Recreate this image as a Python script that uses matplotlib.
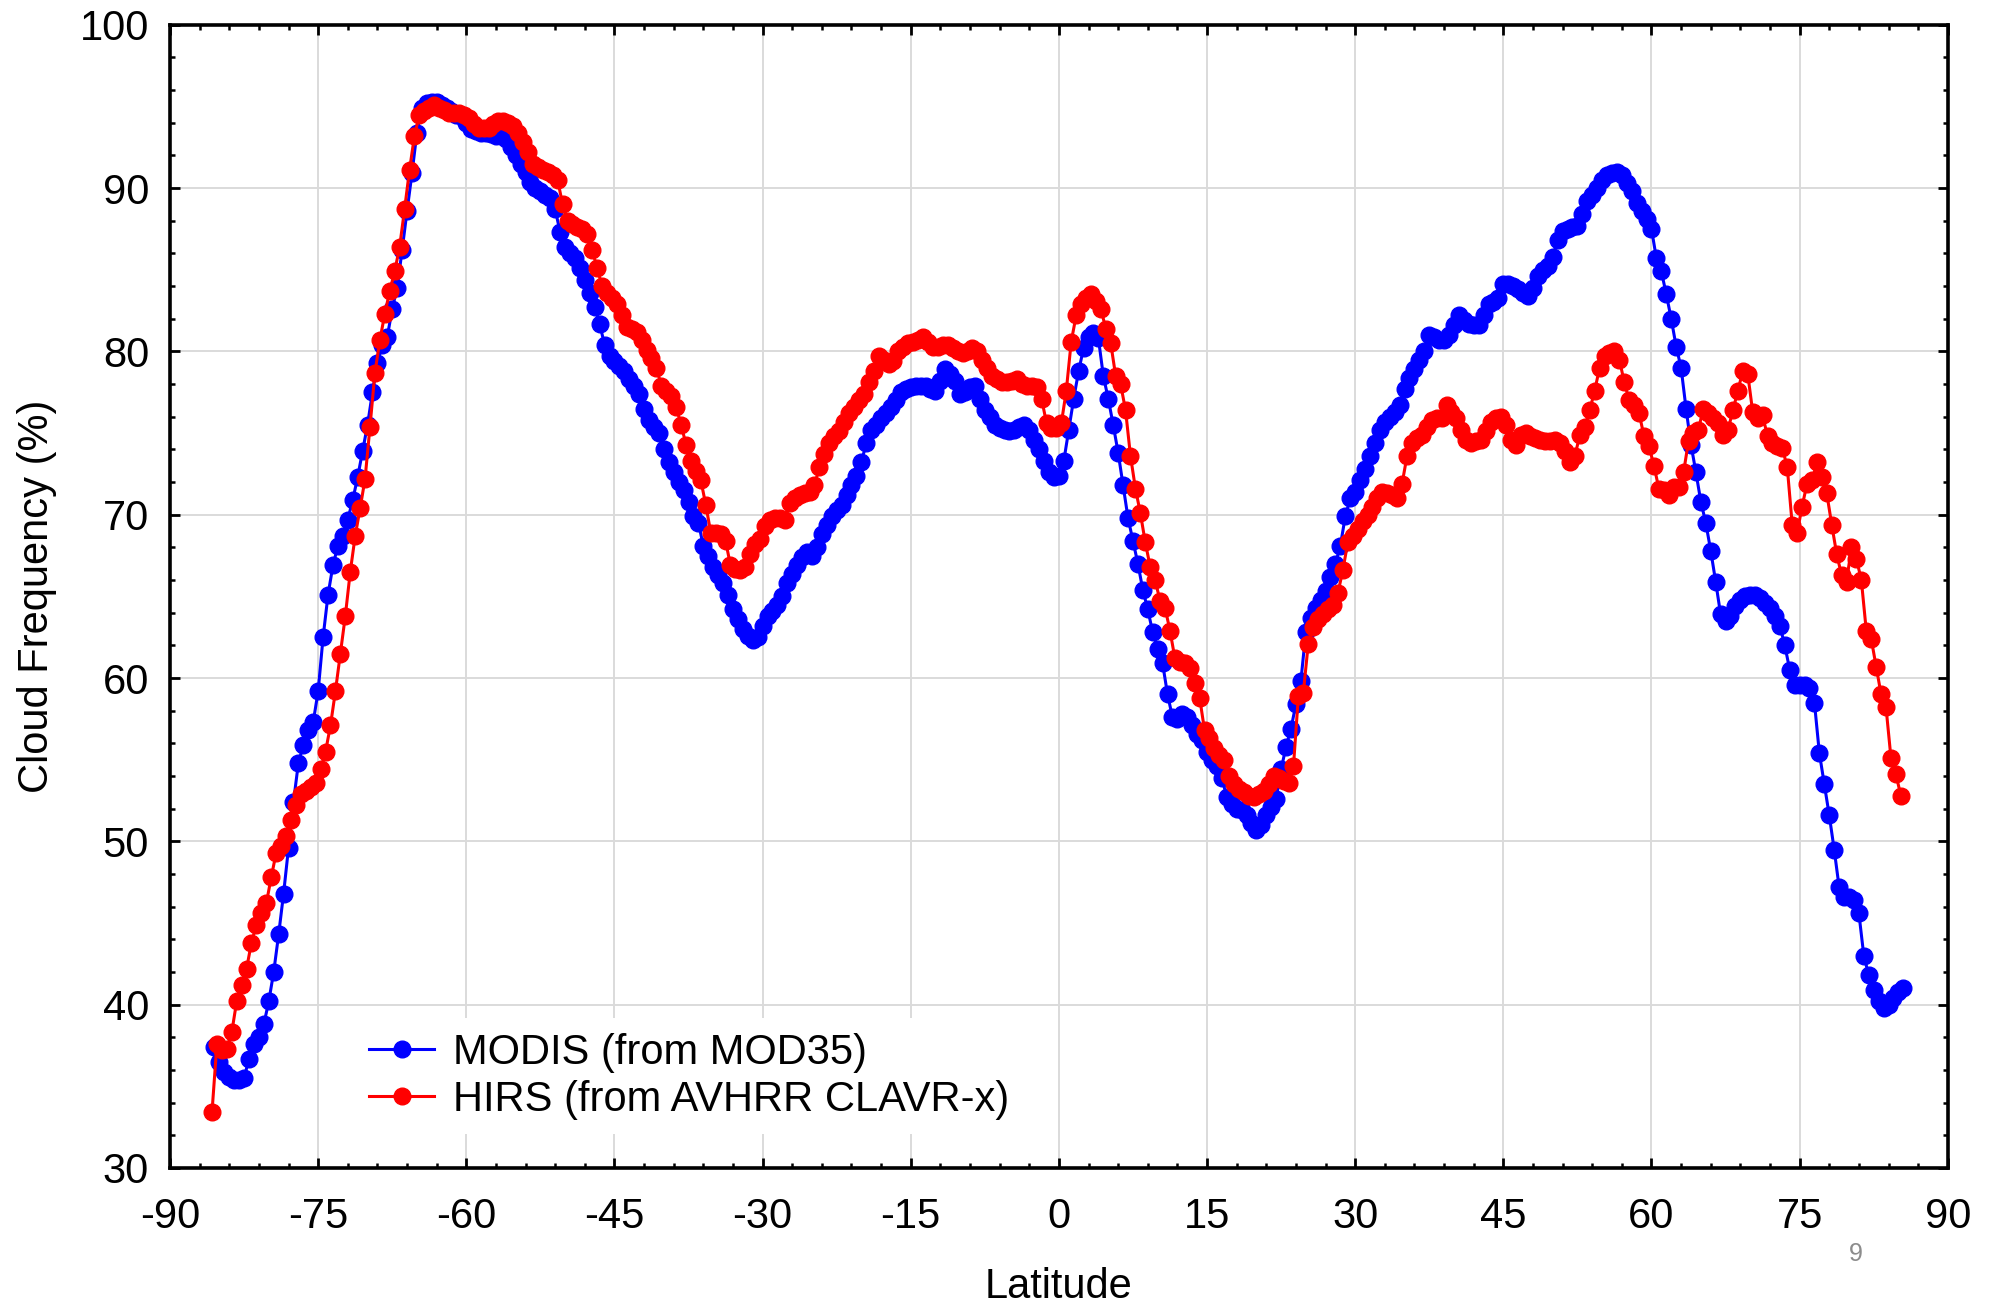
import numpy as np
import matplotlib
matplotlib.use("Agg")
from matplotlib import pyplot as plt
from matplotlib.ticker import MultipleLocator

# cloud frequency (%) on a 0.5 degree latitude grid
modis_start = -85.5
modis = [
    37.4, 36.5, 35.9, 35.6, 35.4, 35.4, 35.5, 36.7, 37.6, 38.0,
    38.8, 40.2, 42.0, 44.3, 46.8, 49.6, 52.4, 54.8, 55.9, 56.8,
    57.3, 59.2, 62.5, 65.1, 66.9, 68.1, 68.7, 69.7, 70.9, 72.3,
    73.9, 75.5, 77.5, 79.3, 80.4, 80.9, 82.6, 83.9, 86.2, 88.6,
    90.9, 93.4, 94.9, 95.2, 95.3, 95.3, 95.1, 94.9, 94.7, 94.5,
    94.4, 94.0, 93.6, 93.5, 93.4, 93.4, 93.3, 93.2, 93.2, 93.0,
    92.5, 92.0, 91.5, 91.0, 90.4, 90.0, 89.8, 89.6, 89.4, 88.7,
    87.3, 86.4, 86.0, 85.7, 85.1, 84.4, 83.6, 82.7, 81.7, 80.4,
    79.7, 79.4, 79.1, 78.8, 78.3, 77.9, 77.4, 76.5, 75.8, 75.4,
    75.0, 74.0, 73.2, 72.6, 72.0, 71.5, 70.8, 69.9, 69.5, 68.1,
    67.5, 66.8, 66.3, 65.8, 65.1, 64.2, 63.6, 63.0, 62.6, 62.3,
    62.5, 63.2, 63.8, 64.1, 64.5, 65.0, 65.8, 66.4, 66.9, 67.4,
    67.7, 67.5, 68.0, 68.8, 69.4, 69.9, 70.3, 70.6, 71.2, 71.8,
    72.4, 73.2, 74.4, 75.2, 75.5, 75.9, 76.2, 76.6, 77.0, 77.5,
    77.7, 77.8, 77.9, 77.9, 77.9, 77.7, 77.6, 78.2, 78.9, 78.6,
    78.2, 77.4, 77.5, 77.8, 77.9, 77.1, 76.4, 76.0, 75.5, 75.3,
    75.2, 75.1, 75.2, 75.4, 75.5, 75.2, 74.6, 74.0, 73.3, 72.6,
    72.3, 72.4, 73.3, 75.2, 77.1, 78.8, 80.2, 80.9, 81.1, 80.8,
    78.5, 77.1, 75.5, 73.8, 71.8, 69.8, 68.4, 67.0, 65.4, 64.2,
    62.8, 61.8, 60.9, 59.0, 57.6, 57.5, 57.8, 57.6, 57.1, 56.6,
    56.2, 55.5, 55.0, 54.6, 53.9, 52.7, 52.3, 52.0, 51.9, 51.6,
    51.1, 50.7, 51.0, 51.6, 52.1, 52.6, 54.4, 55.8, 56.9, 58.4,
    59.8, 62.8, 63.7, 64.3, 64.8, 65.3, 66.2, 67.0, 68.1, 69.9,
    71.0, 71.4, 72.1, 72.8, 73.6, 74.4, 75.2, 75.7, 76.0, 76.3,
    76.7, 77.7, 78.4, 78.9, 79.5, 80.0, 81.0, 80.9, 80.7, 80.7,
    81.0, 81.6, 82.2, 81.9, 81.7, 81.6, 81.6, 82.2, 82.9, 83.0,
    83.3, 84.1, 84.1, 84.0, 83.8, 83.6, 83.4, 83.9, 84.6, 85.0,
    85.2, 85.8, 86.8, 87.4, 87.5, 87.6, 87.7, 88.4, 89.2, 89.6,
    90.0, 90.5, 90.8, 90.9, 91.0, 90.8, 90.3, 89.8, 89.1, 88.6,
    88.1, 87.5, 85.7, 84.9, 83.5, 82.0, 80.3, 79.0, 76.5, 74.3,
    72.6, 70.8, 69.5, 67.8, 65.9, 63.9, 63.5, 63.8, 64.4, 64.8,
    65.0, 65.1, 65.1, 64.9, 64.6, 64.3, 63.8, 63.2, 62.0, 60.5,
    59.6, 59.6, 59.6, 59.4, 58.5, 55.4, 53.5, 51.6, 49.5, 47.2,
    46.6, 46.6, 46.4, 45.6, 43.0, 41.8, 40.9, 40.2, 39.8, 40.0,
    40.4, 40.8, 41.0,
]

hirs_start = -85.75
hirs = [
    33.4, 37.6, 37.2, 37.3, 38.3, 40.2, 41.2, 42.2, 43.8, 44.9,
    45.6, 46.2, 47.8, 49.3, 49.7, 50.3, 51.3, 52.2, 52.9, 53.1,
    53.3, 53.6, 54.4, 55.5, 57.1, 59.2, 61.5, 63.8, 66.5, 68.7,
    70.4, 72.2, 75.4, 78.7, 80.7, 82.3, 83.7, 84.9, 86.4, 88.7,
    91.1, 93.2, 94.5, 94.7, 94.9, 95.1, 94.9, 94.8, 94.6, 94.6,
    94.6, 94.5, 94.3, 93.9, 93.7, 93.7, 93.7, 93.9, 94.1, 94.1,
    94.0, 93.8, 93.4, 92.8, 92.2, 91.5, 91.3, 91.1, 91.0, 90.8,
    90.5, 89.0, 88.0, 87.8, 87.6, 87.5, 87.2, 86.2, 85.1, 84.0,
    83.6, 83.3, 82.9, 82.2, 81.5, 81.4, 81.2, 80.7, 80.1, 79.6,
    79.0, 77.9, 77.6, 77.3, 76.6, 75.5, 74.3, 73.3, 72.7, 72.1,
    70.6, 68.9, 68.9, 68.8, 68.4, 66.9, 66.7, 66.6, 66.8, 67.6,
    68.2, 68.5, 69.3, 69.7, 69.8, 69.8, 69.7, 70.7, 71.0, 71.2,
    71.3, 71.4, 71.8, 72.9, 73.7, 74.4, 74.8, 75.1, 75.7, 76.2,
    76.6, 77.0, 77.4, 78.1, 78.8, 79.7, 79.5, 79.2, 79.4, 80.0,
    80.3, 80.5, 80.6, 80.7, 80.9, 80.6, 80.3, 80.3, 80.4, 80.4,
    80.2, 80.0, 79.9, 80.0, 80.2, 80.0, 79.5, 79.0, 78.5, 78.3,
    78.1, 78.1, 78.2, 78.3, 78.0, 77.9, 77.9, 77.8, 77.1, 75.6,
    75.3, 75.3, 75.6, 77.6, 80.6, 82.2, 82.9, 83.3, 83.5, 83.1,
    82.6, 81.4, 80.5, 78.5, 78.0, 76.4, 73.6, 71.6, 70.1, 68.3,
    66.8, 66.0, 64.7, 64.3, 62.9, 61.2, 61.0, 60.9, 60.6, 59.7,
    58.8, 56.8, 56.3, 55.7, 55.3, 55.0, 54.0, 53.5, 53.2, 53.0,
    52.8, 52.7, 52.9, 53.1, 53.5, 54.0, 53.9, 53.7, 53.6, 54.6,
    58.9, 59.1, 62.1, 63.1, 63.6, 63.9, 64.2, 64.5, 65.2, 66.6,
    68.3, 68.7, 69.1, 69.6, 70.0, 70.5, 71.0, 71.4, 71.3, 71.2,
    71.0, 71.9, 73.6, 74.4, 74.7, 74.9, 75.4, 75.8, 75.9, 75.9,
    76.7, 76.3, 75.9, 75.2, 74.6, 74.4, 74.5, 74.6, 75.1, 75.7,
    75.9, 76.0, 75.5, 74.6, 74.3, 74.9, 75.0, 74.8, 74.7, 74.6,
    74.5, 74.5, 74.6, 74.4, 73.9, 73.2, 73.6, 74.9, 75.4, 76.4,
    77.6, 79.0, 79.7, 79.9, 80.0, 79.5, 78.1, 77.0, 76.7, 76.2,
    74.8, 74.2, 73.0, 71.6, 71.5, 71.2, 71.7, 71.7, 72.6, 74.5,
    75.0, 75.2, 76.5, 76.2, 75.9, 75.6, 74.9, 75.2, 76.4, 77.6,
    78.8, 78.6, 76.3, 75.9, 76.1, 74.8, 74.4, 74.2, 74.1, 72.9,
    69.4, 68.9, 70.5, 71.9, 72.1, 73.2, 72.3, 71.3, 69.4, 67.6,
    66.3, 65.9, 68.0, 67.3, 66.0, 62.9, 62.4, 60.7, 59.0, 58.2,
    55.1, 54.1, 52.8,
]

lat_modis = modis_start + 0.5 * np.arange(len(modis))
lat_hirs = hirs_start + 0.5 * np.arange(len(hirs))

plt.rcParams['font.family'] = ['Liberation Sans', 'DejaVu Sans']
plt.rcParams['axes.unicode_minus'] = False

fig = plt.figure(figsize=(19.93, 13.05), dpi=100)
ax = fig.add_axes([0.0853, 0.105, 0.892, 0.876])

ax.plot(lat_modis, modis, color='#0000ff', lw=2.2, marker='o', ms=12,
        label='MODIS (from MOD35)', zorder=3)
ax.plot(lat_hirs, hirs, color='#ff0000', lw=2.2, marker='o', ms=12,
        label='HIRS (from AVHRR CLAVR-x)', zorder=4)

ax.set_xlim(-90, 90)
ax.set_ylim(30, 100)
ax.xaxis.set_major_locator(MultipleLocator(15))
ax.xaxis.set_minor_locator(MultipleLocator(3))
ax.yaxis.set_major_locator(MultipleLocator(10))
ax.yaxis.set_minor_locator(MultipleLocator(2))
ax.grid(True, which='major', color='#dadada', lw=1.4)
ax.set_axisbelow(True)

ax.tick_params(which='both', direction='in', top=True, right=True,
               colors='black', labelsize=30)
ax.tick_params(axis='x', which='major', length=7, width=2, pad=21)
ax.tick_params(axis='y', which='major', length=7, width=2, pad=15)
ax.tick_params(which='minor', length=3.5, width=1.8)
for sp in ax.spines.values():
    sp.set_linewidth(2.6)

ax.set_xlabel('Latitude', fontsize=30)
ax.set_ylabel('Cloud Frequency (%)', fontsize=30)
ax.xaxis.set_label_coords(0.5, -0.104)
ax.xaxis.label.set_va('center')
ax.yaxis.set_label_coords(-0.075, 0.5)
ax.yaxis.label.set_va('center')

leg = ax.legend(loc='upper left', bbox_to_anchor=(0.104, 0.131),
                borderaxespad=0, fontsize=30, frameon=True, fancybox=False,
                handlelength=1.55, handletextpad=0.45, labelspacing=0.17,
                borderpad=0.35)
leg.get_frame().set_edgecolor('none')
leg.get_frame().set_facecolor('white')
leg.get_frame().set_alpha(1)

fig.text(0.931, 0.039, '9', fontsize=18, color='#8c8c8c', ha='center', va='center')

fig.savefig('out.png', dpi=100)
